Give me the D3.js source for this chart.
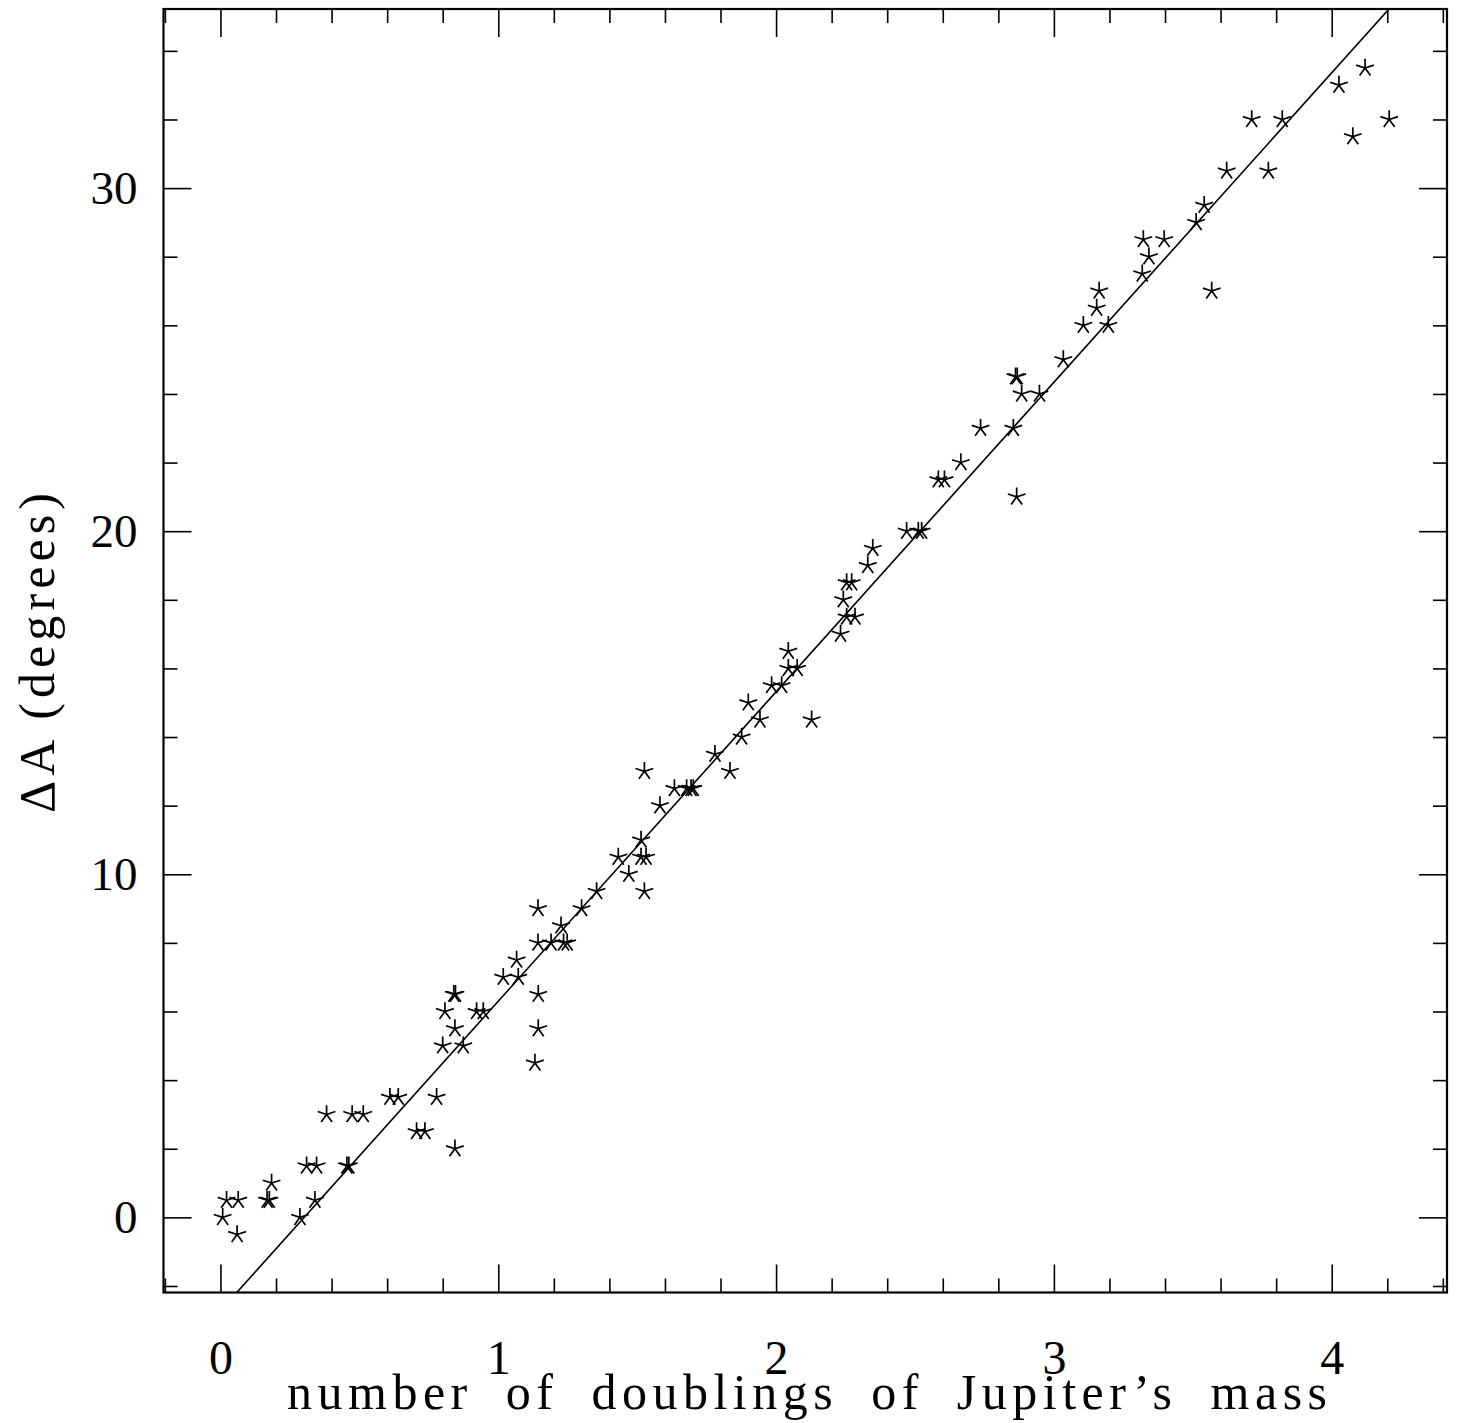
<!DOCTYPE html>
<html>
<head>
<meta charset="utf-8">
<script src="https://cdn.jsdelivr.net/npm/d3@7"></script>
<style>
  html, body { margin: 0; padding: 0; background: #fff; }
  svg { display: block; }
  text { font-family: "Liberation Serif", "DejaVu Serif", serif; fill: #000; }
</style>
</head>
<body>
<script>
// ---- data ----
const xDoublings = [
  0.008, 0.022, 0.064, 0.06, 0.168, 0.176, 0.184, 0.286, 0.31, 0.346,
  0.34, 0.382, 0.455, 0.462, 0.474, 0.514, 0.61, 0.64, 0.706, 0.736,
  0.778, 0.80, 0.808, 0.84, 0.846, 0.844, 0.844, 0.874, 0.922, 0.946,
  1.018, 1.066, 1.072, 1.132, 1.144, 1.144, 1.143, 1.143, 1.19, 1.226,
  1.235, 1.248, 1.30, 1.354, 1.432, 1.47, 1.514, 1.514, 1.532, 1.526,
  1.526, 1.582, 1.634, 1.678, 1.694, 1.702, 1.78, 1.834, 1.876, 1.90,
  1.942, 1.984, 2.02, 2.044, 2.076, 2.044, 2.128, 2.232, 2.242, 2.254,
  2.284, 2.254, 2.272, 2.33, 2.348, 2.47, 2.512, 2.524, 2.584, 2.606,
  2.665, 2.736, 2.854, 2.866, 2.862, 2.868, 2.884, 2.948, 3.034, 3.106,
  3.196, 3.154, 3.163, 3.318, 3.342, 3.322, 3.397, 3.512, 3.541, 3.568,
  3.622, 3.772, 3.712, 3.822, 4.026, 4.12, 4.076, 4.207
];
const deltaA = [
  0, 0.5, 0.5, -0.5, 0.5, 0.5, 1.0, 0, 1.5, 1.5,
  0.5, 3.0, 1.5, 1.5, 3.0, 3.0, 3.5, 3.5, 2.5, 2.5,
  3.5, 5.0, 6.0, 6.5, 6.5, 5.5, 2.0, 5.0, 6.0, 6.0,
  7.0, 7.5, 7.0, 4.5, 5.5, 6.5, 9.0, 8.0, 8.0, 8.5,
  8.0, 8.0, 9.0, 9.5, 10.5, 10.0, 11.0, 10.5, 10.5, 9.5,
  13.0, 12.0, 12.5, 12.5, 12.5, 12.5, 13.5, 13.0, 14.0, 15.0,
  14.5, 15.5, 15.5, 16.0, 16.0, 16.5, 14.5, 17.0, 18.0, 17.5,
  17.5, 18.5, 18.5, 19.0, 19.5, 20.0, 20.0, 20.0, 21.5, 21.5,
  22.0, 23.0, 23.0, 21.0, 24.5, 24.5, 24.0, 24.0, 25.0, 26.0,
  26.0, 26.5, 27.0, 27.5, 28.0, 28.5, 28.5, 29.0, 29.5, 27.0,
  30.5, 30.5, 32.0, 32.0, 33.0, 33.5, 31.5, 32.0
];
const fitSlope = 9.02;
const fitIntercept = -2.72;

const xDomain = [-0.205, 4.415];
const yDomain = [-2.19, 35.22];
const xMajorTicks = [0, 1, 2, 3, 4];
const xMinorTicks = [-0.2,0.2,0.4,0.6,0.8,1.2,1.4,1.6,1.8,2.2,2.4,2.6,2.8,3.2,3.4,3.6,3.8,4.2,4.4];
const yMajorTicks = [0, 10, 20, 30];
const yMinorTicks = [-2,2,4,6,8,12,14,16,18,22,24,26,28,32,34];
const xTickLabels = ["0", "1", "2", "3", "4"];
const yTickLabels = ["0", "10", "20", "30"];
const xTitle = "number of doublings of Jupiter\u2019s mass";
const yTitle = "\u0394A (degrees)";

// ---- layout ----
const W = 1460, H = 1423;
const L = 163.5, R = 1447, T = 9, B = 1292.5;
const MAJ = 28, MIN = 14;

const svg = d3.select("body").append("svg")
  .attr("width", W).attr("height", H).attr("viewBox", `0 0 ${W} ${H}`);
svg.append("rect").attr("width", W).attr("height", H).attr("fill", "#fff");

const x = d3.scaleLinear().domain(xDomain).range([L, R]);
const y = d3.scaleLinear().domain(yDomain).range([B, T]);

function styleAxis(g, fs) {
  g.select(".domain").remove();
  g.selectAll(".tick line").attr("stroke", "#000").attr("stroke-width", 1.6);
  g.selectAll("text").style("font-family", "'Liberation Serif', serif").style("font-size", (fs || 46) + "px").attr("fill", "#000");
}

// bottom
const gb = svg.append("g").attr("transform", `translate(0,${B})`);
gb.call(d3.axisBottom(x).tickValues(xMajorTicks).tickSizeInner(-MAJ).tickSizeOuter(0)
  .tickFormat((d, i) => xTickLabels[i])).call(g => styleAxis(g, 48));
gb.selectAll("text").attr("y", 81).attr("dy", null);
svg.append("g").attr("transform", `translate(0,${B})`)
  .call(d3.axisBottom(x).tickValues(xMinorTicks).tickSizeInner(-MIN).tickSizeOuter(0).tickFormat(""))
  .call(styleAxis);
// top
svg.append("g").attr("transform", `translate(0,${T})`)
  .call(d3.axisTop(x).tickValues(xMajorTicks).tickSizeInner(-MAJ).tickSizeOuter(0).tickFormat(""))
  .call(styleAxis);
svg.append("g").attr("transform", `translate(0,${T})`)
  .call(d3.axisTop(x).tickValues(xMinorTicks).tickSizeInner(-MIN).tickSizeOuter(0).tickFormat(""))
  .call(styleAxis);
// left
const gl = svg.append("g").attr("transform", `translate(${L},0)`);
gl.call(d3.axisLeft(y).tickValues(yMajorTicks).tickSizeInner(-MAJ).tickSizeOuter(0)
  .tickFormat((d, i) => yTickLabels[i])).call(g => styleAxis(g, 47));
gl.selectAll("text").attr("x", -26).attr("dy", "0.33em");
svg.append("g").attr("transform", `translate(${L},0)`)
  .call(d3.axisLeft(y).tickValues(yMinorTicks).tickSizeInner(-MIN).tickSizeOuter(0).tickFormat(""))
  .call(styleAxis);
// right
svg.append("g").attr("transform", `translate(${R},0)`)
  .call(d3.axisRight(y).tickValues(yMajorTicks).tickSizeInner(-MAJ).tickSizeOuter(0).tickFormat(""))
  .call(styleAxis);
svg.append("g").attr("transform", `translate(${R},0)`)
  .call(d3.axisRight(y).tickValues(yMinorTicks).tickSizeInner(-MIN).tickSizeOuter(0).tickFormat(""))
  .call(styleAxis);

// frame
svg.append("rect").attr("x", L).attr("y", T).attr("width", R - L).attr("height", B - T)
  .attr("fill", "none").attr("stroke", "#000").attr("stroke-width", 2.2);

// clip
svg.append("clipPath").attr("id", "clip").append("rect")
  .attr("x", L).attr("y", T).attr("width", R - L).attr("height", B - T);

// fit line
const lineGen = d3.line().x(d => x(d)).y(d => y(fitSlope * d + fitIntercept));
svg.append("path").attr("clip-path", "url(#clip)")
  .attr("d", lineGen(xDomain))
  .attr("fill", "none").attr("stroke", "#000").attr("stroke-width", 1.6);

// star markers (5-armed asterisk)
const r = 9.3;
const angles = [90, 18, 162, -54, 234].map(a => a * Math.PI / 180);
const starPath = angles.map(a => `M0,0L${(r * Math.cos(a)).toFixed(2)},${(-r * Math.sin(a)).toFixed(2)}`).join("");
const pts = xDoublings.map((d, i) => ({ x: d, y: deltaA[i] }));
svg.append("g").selectAll("path").data(pts).join("path")
  .attr("transform", d => `translate(${x(d.x)},${y(d.y)})`)
  .attr("d", starPath)
  .attr("fill", "none").attr("stroke", "#000").attr("stroke-width", 1.7)
  .attr("stroke-linecap", "butt");

// titles
svg.append("text").attr("x", 287).attr("y", 1409)
  .attr("text-anchor", "start").style("font-size", "50px")
  .style("letter-spacing", "5.5px").style("word-spacing", "15px")
  .text(xTitle);
svg.append("text").attr("transform", `translate(54,${(493 + 813) / 2}) rotate(-90)`)
  .attr("text-anchor", "middle").style("font-size", "50px")
  .attr("textLength", 320).attr("lengthAdjust", "spacing")
  .text(yTitle);
</script>
</body>
</html>
